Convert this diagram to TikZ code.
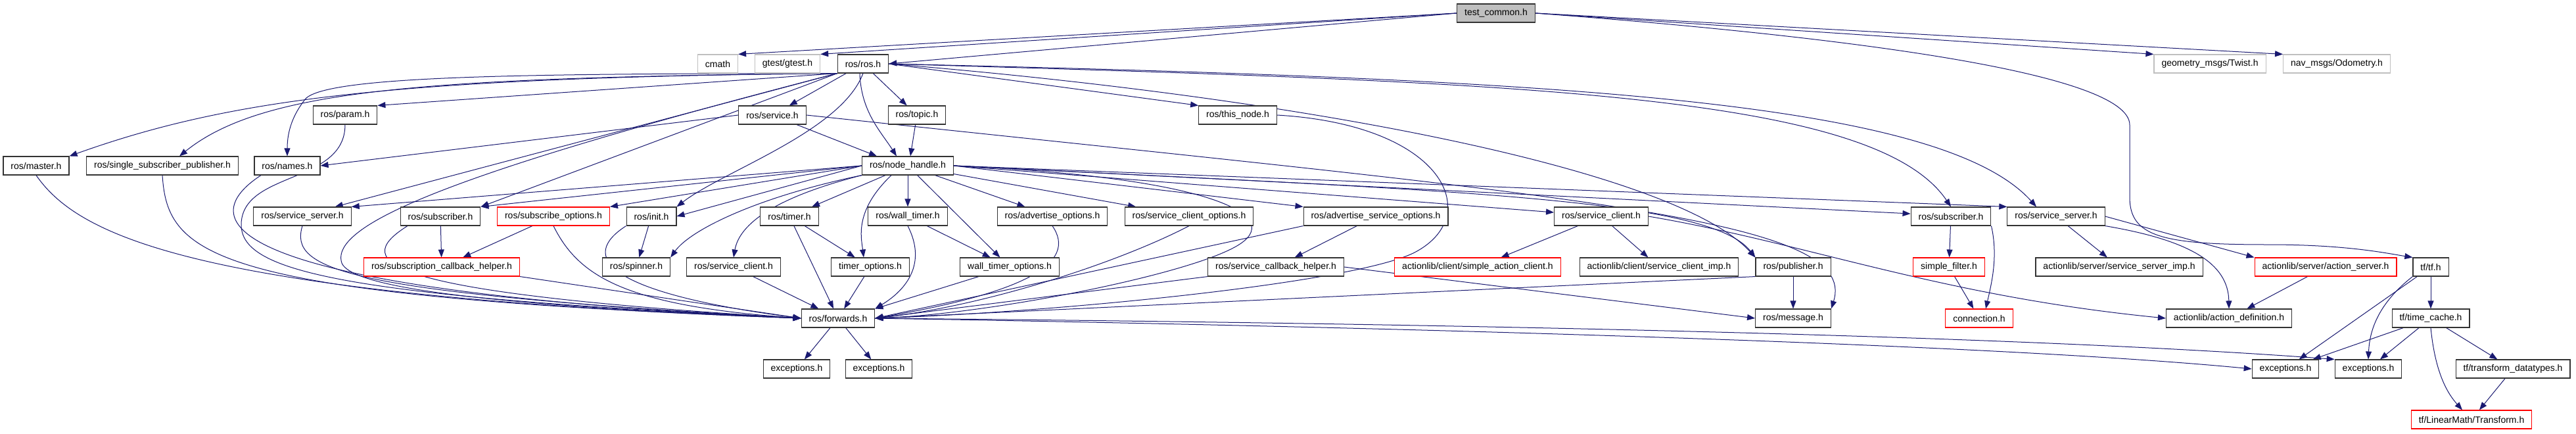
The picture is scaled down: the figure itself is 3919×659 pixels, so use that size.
\documentclass[tikz,border=0pt]{standalone}
\usepackage{fontspec}
\setmainfont{Liberation Sans}
\usetikzlibrary{arrows.meta,backgrounds}
\definecolor{edgeblue}{HTML}{191970}
\definecolor{framegray}{HTML}{BFBFBF}

\begin{document}
\begin{tikzpicture}[x=1pt,y=1pt,
  file/.style={draw=black!80,line width=1.1pt,fill=white,minimum height=28pt,
    inner xsep=11.5pt,inner ysep=0pt,font=\fontsize{14}{16}\selectfont},
  sysfile/.style={file,draw=framegray},
  brokenfile/.style={file,draw=red},
  topfile/.style={file,fill=framegray},
  dep/.style={draw=edgeblue,line width=1pt,-{Triangle[length=12pt,width=9pt]}}]
  \useasboundingbox (0,0) rectangle (3919,-659);

  \node[topfile] (tc) at (2276,-20) {test\_common.h};

  \node[sysfile] (cmath) at (1092,-97) {cmath};
  \node[sysfile] (gtest) at (1198,-97) {gtest/gtest.h};
  \node[file] (ros) at (1313,-97) {ros/ros.h};
  \node[sysfile] (twist) at (3362,-97) {geometry\_msgs/Twist.h};
  \node[sysfile] (odom) at (3555,-97) {nav\_msgs/Odometry.h};

  \node[file] (param) at (525,-175) {ros/param.h};
  \node[file] (service) at (1175,-175) {ros/service.h};
  \node[file] (topic) at (1395,-175) {ros/topic.h};
  \node[file] (thisnode) at (1883,-175) {ros/this\_node.h};

  \node[file] (master) at (55,-252) {ros/master.h};
  \node[file] (ssp) at (247,-252) {ros/single\_subscriber\_publisher.h};
  \node[file] (names) at (437,-252) {ros/names.h};
  \node[file] (nh) at (1381,-252) {ros/node\_handle.h};

  \node[file] (ssL) at (460,-329) {ros/service\_server.h};
  \node[file] (subL) at (670,-329) {ros/subscriber.h};
  \node[brokenfile] (subopt) at (842,-329) {ros/subscribe\_options.h};
  \node[file] (init) at (991,-329) {ros/init.h};
  \node[file] (timer) at (1201,-329) {ros/timer.h};
  \node[file] (wtimer) at (1381,-329) {ros/wall\_timer.h};
  \node[file] (advopt) at (1601,-329) {ros/advertise\_options.h};
  \node[file] (scopt) at (1809,-329) {ros/service\_client\_options.h};
  \node[file] (asopt) at (2093,-329) {ros/advertise\_service\_options.h};
  \node[file] (scU) at (2436,-329) {ros/service\_client.h};
  \node[file] (subR) at (2968,-329) {ros/subscriber.h};
  \node[file] (ssR) at (3128,-329) {ros/service\_server.h};

  \node[brokenfile] (cbhelp) at (672,-406) {ros/subscription\_callback\_helper.h};
  \node[file] (spinner) at (968,-406) {ros/spinner.h};
  \node[file] (scL) at (1116,-406) {ros/service\_client.h};
  \node[file] (topt) at (1324,-406) {timer\_options.h};
  \node[file] (wtopt) at (1536,-406) {wall\_timer\_options.h};
  \node[file] (schelp) at (1941,-406) {ros/service\_callback\_helper.h};
  \node[brokenfile] (sac) at (2248,-406) {actionlib/client/simple\_action\_client.h};
  \node[file] (scimp) at (2524,-406) {actionlib/client/service\_client\_imp.h};
  \node[file] (pub) at (2728,-406) {ros/publisher.h};
  \node[brokenfile] (sfilter) at (2965,-406) {simple\_filter.h};
  \node[file] (ssimp) at (3224,-406) {actionlib/server/service\_server\_imp.h};
  \node[brokenfile] (aserver) at (3538,-406) {actionlib/server/action\_server.h};
  \node[file] (tf) at (3698,-406) {tf/tf.h};

  \node[file] (fwd) at (1275,-484) {ros/forwards.h};
  \node[file] (msg) at (2728,-484) {ros/message.h};
  \node[brokenfile] (conn) at (3011,-484) {connection.h};
  \node[file] (adef) at (3391,-484) {actionlib/action\_definition.h};
  \node[file] (tcache) at (3698,-484) {tf/time\_cache.h};

  \node[file] (exc1) at (1212,-561) {exceptions.h};
  \node[file] (exc2) at (1337,-561) {exceptions.h};
  \node[file] (exc3) at (3477,-561) {exceptions.h};
  \node[file] (exc4) at (3603,-561) {exceptions.h};
  \node[file] (tdt) at (3823,-561) {tf/transform\_datatypes.h};

  \node[brokenfile] (transform) at (3760,-638) {tf/LinearMath/Transform.h};

  \begin{scope}[on background layer]
  % test_common.h
  \draw[dep] (tc.west) -- (cmath.north east);
  \draw[dep] (tc.west) -- (gtest.north east);
  \draw[dep] (tc.west) -- (ros.east);
  \draw[dep] (tc.east) -- (twist.north west);
  \draw[dep] (tc.east) -- (odom.north west);
  \draw[dep] (tc.east) .. controls (2800,-55) and (3240,-110) .. (3240,-190) -- (3240,-300)
    .. controls (3240,-360) and (3290,-372) .. (3450,-372) .. controls (3570,-372) and (3630,-385) .. (tf.north west);

  % ros/ros.h
  \draw[dep] (ros.south west) .. controls (600,-118) and (350,-150) .. (master.north east);
  \draw[dep] (ros.south west) .. controls (650,-118) and (400,-135) .. ([xshift=26pt]ssp.north);
  \draw[dep] (ros.south west) .. controls (800,-112) and (500,-115) .. (465,-150)
    .. controls (445,-175) and (437,-200) .. (names.north);
  \draw[dep] (ros.south west) -- (param.north east);
  \draw[dep] (ros) -- (service);
  \draw[dep] (ros) -- (topic);
  \draw[dep] ([xshift=-5pt]ros.south) .. controls (1310,-170) and (1340,-200) .. ([xshift=-17pt]nh.north);
  \draw[dep] (ros.east) -- (thisnode.north west);
  \draw[dep] (ros.east) .. controls (2300,-125) and (2850,-140) .. (subR.north);
  \draw[dep] (ros.east) .. controls (2350,-120) and (2950,-150) .. ([xshift=-30pt]ssR.north);
  \draw[dep] (ros.east) .. controls (2000,-150) and (2550,-260) .. (pub.north west);
  \draw[dep] (ros.south) .. controls (1280,-200) and (1100,-260) .. (init.north east);
  \draw[dep] (ros.south west) -- (subL.north east);
  \draw[dep] (ros.south west) -- ([xshift=-25pt]ssL.north east);
  \draw[dep] (ros.south west) .. controls (700,-260) and (500,-340) .. (520,-400)
    .. controls (540,-450) and (900,-470) .. (fwd.west);

  % ros/service.h, ros/topic.h, ros/this_node.h
  \draw[dep] (service.west) -- (names.east);
  \draw[dep] (service) -- ([xshift=-47pt]nh.north);
  \draw[dep] (service.east) .. controls (2400,-300) and (2830,-330) .. (msg.north east);
  \draw[dep] (topic) -- ([xshift=4pt]nh.north);
  \draw[dep] (thisnode.east) .. controls (2200,-190) and (2260,-330) .. (2150,-385)
    .. controls (2050,-432) and (1600,-475) .. (fwd.east);

  % into ros/forwards.h
  \draw[dep] (master.south) .. controls (120,-360) and (300,-450) .. (fwd.west);
  \draw[dep] (ssp.south) .. controls (255,-390) and (320,-450) .. (fwd.west);
  \draw[dep] ([xshift=-40pt]names.south) .. controls (300,-330) and (300,-440) .. (fwd.west);
  \draw[dep] (param.south) .. controls (525,-280) and (370,-260) .. (367,-340)
    .. controls (365,-410) and (500,-450) .. (fwd.west);
  \draw[dep] (ssL.south) .. controls (440,-410) and (520,-445) .. (fwd.west);
  \draw[dep] ([xshift=-50pt]subL.south) .. controls (530,-400) and (580,-445) .. (fwd.west);
  \draw[dep] (cbhelp.south east) -- (fwd.west);
  \draw[dep] (subopt.south) .. controls (880,-420) and (950,-465) .. (fwd.west);
  \draw[dep] (init.south west) .. controls (880,-390) and (920,-445) .. (fwd.west);
  \draw[dep] (scL) -- (fwd);
  \draw[dep] (timer) -- (fwd);
  \draw[dep] (topt) -- (fwd);
  \draw[dep] (wtimer.south) .. controls (1410,-400) and (1380,-440) .. (fwd.north east);
  \draw[dep] (wtopt) -- (fwd.north east);
  \draw[dep] (advopt.south) .. controls (1640,-400) and (1560,-445) .. (fwd.east);
  \draw[dep] (scopt.south) .. controls (1700,-400) and (1500,-465) .. (fwd.east);
  \draw[dep] (asopt.south west) -- (fwd.east);
  \draw[dep] (schelp.south west) -- (fwd.east);
  \draw[dep] (nh.east) .. controls (1850,-270) and (1960,-330) .. (1880,-375)
    .. controls (1800,-420) and (1500,-478) .. (fwd.east);
  \draw[dep] (pub.south west) -- (fwd.east);

  % ros/forwards.h
  \draw[dep] (fwd) -- (exc1);
  \draw[dep] (fwd) -- (exc2);
  \draw[dep] (fwd.east) .. controls (2000,-495) and (3000,-520) .. (exc3.west);
  \draw[dep] (fwd.east) .. controls (2000,-490) and (3000,-505) .. (exc4.north west);

  % ros/node_handle.h
  \draw[dep] (nh.west) -- (ssL.north east);
  \draw[dep] (nh.west) -- (subL.north east);
  \draw[dep] (nh.west) -- (subopt.north east);
  \draw[dep] (nh.west) -- (init.east);
  \draw[dep] (nh.south west) .. controls (1150,-300) and (1050,-350) .. (spinner.north east);
  \draw[dep] (nh.south west) .. controls (1180,-300) and (1125,-340) .. (scL.north);
  \draw[dep] (nh) -- (timer);
  \draw[dep] ([xshift=-25pt]nh.south) .. controls (1300,-320) and (1310,-360) .. ([xshift=-10pt]topt.north);
  \draw[dep] (nh) -- (wtimer);
  \draw[dep] (nh) -- (wtopt);
  \draw[dep] (nh) -- (advopt);
  \draw[dep] (nh) -- (scopt);
  \draw[dep] (nh.east) -- (asopt.north west);
  \draw[dep] (nh.east) -- ([yshift=6pt]scU.west);
  \draw[dep] (nh.east) -- ([yshift=4pt]subR.west);
  \draw[dep] (nh.east) -- (ssR.north west);
  \draw[dep] (nh.east) .. controls (2200,-290) and (2600,-300) .. (pub.north west);

  % the rest
  \draw[dep] (subL) -- (cbhelp);
  \draw[dep] (subopt) -- (cbhelp);
  \draw[dep] (init) -- (spinner);
  \draw[dep] (timer) -- (topt);
  \draw[dep] (wtimer) -- (wtopt);
  \draw[dep] (asopt) -- (schelp);
  \draw[dep] (schelp.east) -- (msg.west);
  \draw[dep] (scU) -- (sac);
  \draw[dep] (scU) -- (scimp);
  \draw[dep] (scU.east) .. controls (2750,-370) and (2950,-450) .. (adef.west);
  \draw[dep] (pub) -- (msg);
  \draw[dep] (subR) -- (sfilter);
  \draw[dep] (subR.south east) .. controls (3040,-390) and (3030,-430) .. ([xshift=10pt]conn.north);
  \draw[dep] (sfilter) -- (conn);
  \draw[dep] (ssR) -- (ssimp);
  \draw[dep] (ssR.east) -- (aserver.north west);
  \draw[dep] (ssR.south east) .. controls (3330,-365) and (3390,-400) .. (adef.north);
  \draw[dep] (aserver) -- (adef);
  \draw[dep] (tf) -- (exc3);
  \draw[dep] (tf.south west) .. controls (3620,-460) and (3605,-500) .. (exc4.north);
  \draw[dep] (tf) -- (tcache);
  \draw[dep] (tcache) -- (exc3);
  \draw[dep] (tcache) -- (exc4);
  \draw[dep] (tcache) -- (tdt);
  \draw[dep] (tcache.south) .. controls (3705,-570) and (3725,-600) .. ([xshift=-14pt]transform.north);
  \draw[dep] (tdt) -- (transform);
  \end{scope}
\end{tikzpicture}
\end{document}
